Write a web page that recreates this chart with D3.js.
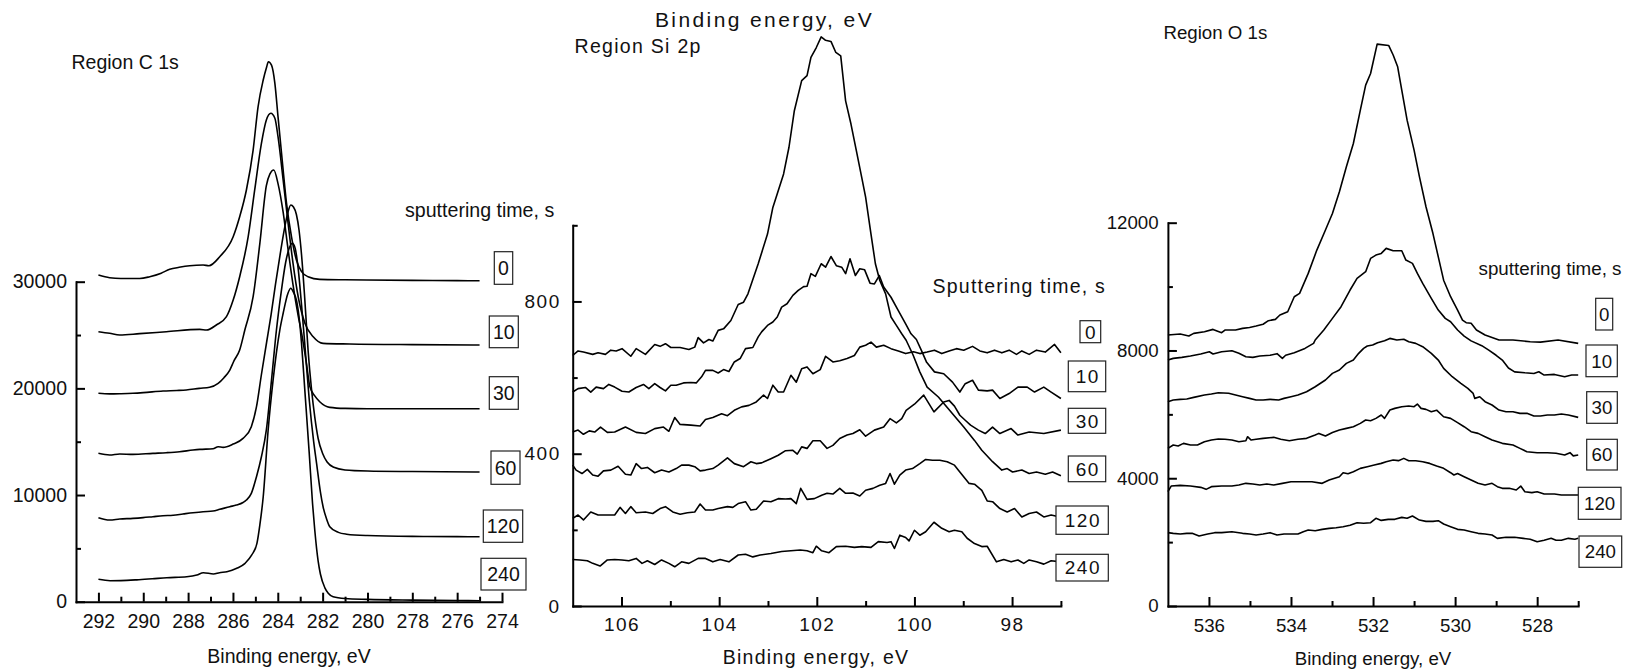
<!DOCTYPE html>
<html>
<head>
<meta charset="utf-8">
<script src="https://cdn.jsdelivr.net/npm/d3@7/dist/d3.min.js"></script>
<style>
  html, body { margin: 0; padding: 0; background: #fff; }
  svg { display: block; }
  text { font-family: "Liberation Sans", Arial, sans-serif; fill: #111; }
</style>
</head>
<body>
<script>
// XPS depth profile: C 1s, Si 2p and O 1s regions after successive sputtering steps.
// Each series is a list of [binding energy (eV), counts].

const sputterTimes = ["0", "10", "30", "60", "120", "240"];

// ---------- C 1s ----------
const c1s_0 = [[292.0,30630],[291.5,30375],[291.0,30300],[290.16,30300],[289.71,30470],[289.2,30800],[288.82,31160],[288.4,31350],[287.93,31500],[287.33,31560],[287.07,31500],[286.59,32340],[285.99,34220],[285.70,36090],[285.40,38600],[285.10,42340],[284.88,46400],[284.65,48910],[284.5,50100],[284.42,50625],[284.28,50310],[284.13,48600],[283.99,45470],[283.79,41100],[283.61,37350],[283.39,34220],[283.17,32030],[282.94,30940],[282.65,30470],[282.13,30220],[281.0,30180],[280.04,30160],[278.0,30120],[276.0,30100],[275.0,30090]];
const c1s_10 = [[292.0,25310],[291.5,25160],[291.05,25000],[290.16,25130],[288.97,25310],[287.48,25530],[287.18,25470],[286.74,25940],[286.29,26720],[285.99,28280],[285.70,30470],[285.32,34220],[285.03,38600],[284.73,42970],[284.51,45160],[284.31,45790],[284.13,45320],[283.99,43590],[283.76,39530],[283.54,35470],[283.32,31720],[283.09,28590],[282.79,26100],[282.42,24840],[281.98,24220],[280.79,24160],[278.0,24100],[275.0,24070]];
const c1s_30 = [[292.0,19540],[291.5,19480],[291.0,19500],[290.46,19540],[290.0,19600],[289.12,19750],[288.5,19800],[288.08,19850],[287.5,20000],[287.04,20100],[286.66,20470],[286.4,21000],[286.14,21720],[285.95,22600],[285.70,23600],[285.47,25470],[285.10,28590],[284.80,33600],[284.51,39000],[284.35,40100],[284.18,40470],[283.99,39200],[283.76,36500],[283.54,33000],[283.32,29700],[283.09,26800],[282.94,25200],[282.72,22300],[282.57,20160],[282.35,19300],[282.13,18750],[281.68,18220],[281.0,18120],[280.0,18090],[278.0,18090],[275.0,18090]];
const c1s_60 = [[292.0,13910],[291.5,13750],[291.05,13850],[290.46,13810],[289.57,13910],[288.97,13970],[288.38,14060],[287.78,14220],[287.48,14280],[286.89,14340],[286.66,14530],[286.44,14470],[285.99,14780],[285.55,15310],[285.18,16410],[284.95,18280],[284.73,21300],[284.5,24300],[284.3,26900],[284.1,29800],[283.9,32500],[283.7,35000],[283.55,36500],[283.42,37190],[283.3,37000],[283.17,36300],[283.05,34800],[282.94,32500],[282.8,28500],[282.65,23600],[282.5,20000],[282.35,17300],[282.2,15300],[282.0,13900],[281.8,13100],[281.5,12600],[281.0,12350],[280.0,12250],[278.0,12200],[275.0,12160]];
const c1s_120 = [[292.0,7880],[291.5,7660],[291.05,7750],[290.46,7810],[290.01,7880],[289.57,7970],[289.12,8060],[288.67,8100],[288.23,8220],[287.78,8340],[287.33,8440],[286.89,8500],[286.59,8660],[286.14,8910],[285.85,9060],[285.55,9300],[285.40,9530],[285.18,10160],[284.95,11720],[284.73,13590],[284.51,16100],[284.28,20780],[284.06,25470],[283.85,29000],[283.65,31800],[283.48,33200],[283.35,33600],[283.22,33100],[283.09,31200],[282.94,27800],[282.79,24000],[282.6,19000],[282.4,15000],[282.27,12970],[282.1,10300],[281.98,8900],[281.83,7800],[281.68,7030],[281.3,6500],[280.93,6330],[280.0,6200],[278.0,6120],[276.0,6100],[275.0,6090]];
const c1s_240 = [[292.0,2100],[291.48,1970],[291.0,1980],[290.29,2050],[289.6,2150],[288.95,2250],[288.06,2340],[287.61,2500],[287.32,2720],[286.87,2600],[286.6,2720],[286.27,2810],[285.83,3130],[285.46,3600],[285.16,4380],[284.93,5470],[284.8,7200],[284.65,9840],[284.43,16100],[284.21,20780],[283.91,25470],[283.76,27040],[283.55,28900],[283.42,29380],[283.3,29000],[283.17,28300],[283.02,26100],[282.94,24200],[282.8,20000],[282.6,14000],[282.45,9200],[282.35,6700],[282.2,3800],[282.1,2600],[281.9,1300],[281.75,800],[281.53,470],[281.0,300],[280.0,220],[278.0,150],[276.0,110],[275.0,90]];

// ---------- Si 2p ----------
const si2p_0 = [[107.00,457],[106.89,462],[106.78,451],[106.66,460],[106.55,457],[106.43,470],[106.29,456],[106.14,457],[105.92,470],[105.70,456],[105.51,453],[105.32,466],[105.14,470],[105.03,459],[104.91,495],[104.80,477],[104.58,475],[104.39,473],[104.28,490],[104.13,495],[103.95,505],[103.83,500],[103.69,514],[103.54,523],[103.39,527],[103.24,536],[103.09,554],[103.01,545],[102.90,580],[102.79,562],[102.68,562],[102.53,606],[102.42,588],[102.31,623],[102.20,628],[102.08,610],[101.93,621],[101.82,656],[101.67,641],[101.53,644],[101.38,650],[101.23,658],[101.12,680],[101.00,685],[100.89,693],[100.78,680],[100.63,685],[100.48,676],[100.33,670],[100.18,663],[100.02,668],[99.89,663],[99.74,667],[99.59,672],[99.44,663],[99.29,670],[99.14,676],[98.99,672],[98.81,682],[98.66,670],[98.51,665],[98.36,672],[98.21,665],[98.06,672],[97.91,661],[97.80,670],[97.65,661],[97.50,672],[97.32,667],[97.13,687],[97.00,665]];
const si2p_10 = [[107.00,562],[106.89,571],[106.74,574],[106.63,562],[106.52,575],[106.37,571],[106.26,582],[106.14,575],[105.99,564],[105.85,562],[105.70,574],[105.55,582],[105.44,571],[105.32,584],[105.21,574],[105.10,565],[104.99,580],[104.88,580],[104.73,586],[104.58,587],[104.47,586],[104.36,602],[104.28,619],[104.13,619],[104.02,612],[103.91,621],[103.80,616],[103.69,641],[103.57,650],[103.46,676],[103.31,679],[103.20,707],[103.13,720],[103.01,737],[102.90,746],[102.81,759],[102.72,785],[102.61,794],[102.49,816],[102.38,829],[102.27,839],[102.20,840],[102.12,873],[102.03,866],[101.91,899],[101.82,890],[101.71,918],[101.60,894],[101.49,890],[101.41,873],[101.32,912],[101.21,868],[101.12,886],[101.02,883],[100.91,848],[100.82,846],[100.72,868],[100.63,838],[100.48,811],[100.33,776],[100.18,741],[100.07,715],[99.96,700],[99.86,672],[99.75,640],[99.59,615],[99.40,610],[99.22,588],[99.07,562],[98.96,584],[98.81,593],[98.69,567],[98.51,565],[98.40,567],[98.25,545],[98.06,558],[97.88,575],[97.69,575],[97.54,562],[97.35,575],[97.20,562],[97.00,545]];
const si2p_30 = [[107.00,370],[106.93,357],[106.81,348],[106.70,359],[106.59,344],[106.48,341],[106.37,355],[106.22,357],[106.07,367],[105.92,346],[105.81,344],[105.70,374],[105.59,361],[105.47,364],[105.32,350],[105.18,357],[105.03,352],[104.88,361],[104.77,370],[104.62,370],[104.50,366],[104.39,355],[104.28,357],[104.13,361],[104.02,370],[103.83,389],[103.69,374],[103.50,366],[103.35,379],[103.24,374],[103.13,376],[102.94,387],[102.79,396],[102.64,408],[102.49,409],[102.40,399],[102.31,418],[102.20,414],[102.08,434],[101.93,434],[101.79,414],[101.67,422],[101.53,440],[101.38,449],[101.26,453],[101.12,463],[101.00,446],[100.82,462],[100.63,470],[100.50,492],[100.37,481],[100.26,492],[100.17,514],[100.00,530],[99.81,554],[99.60,510],[99.40,536],[99.29,540],[99.18,525],[99.07,501],[98.96,488],[98.85,475],[98.69,462],[98.55,453],[98.40,470],[98.25,453],[98.02,466],[97.88,449],[97.65,457],[97.35,453],[97.00,462]];
const si2p_60 = [[107.00,658],[106.89,670],[106.78,667],[106.59,661],[106.48,665],[106.33,661],[106.22,672],[106.11,670],[105.99,676],[105.81,656],[105.70,676],[105.51,661],[105.32,687],[105.21,682],[105.10,689],[104.99,679],[104.80,679],[104.62,674],[104.50,680],[104.43,705],[104.32,691],[104.21,700],[104.13,696],[104.02,724],[103.91,728],[103.76,750],[103.61,792],[103.50,798],[103.41,820],[103.20,899],[103.01,977],[102.90,1047],[102.79,1091],[102.68,1135],[102.57,1205],[102.46,1301],[102.31,1380],[102.20,1393],[102.12,1441],[102.01,1467],[101.91,1495],[101.82,1486],[101.71,1483],[101.61,1454],[101.51,1445],[101.41,1327],[101.30,1266],[101.19,1196],[101.08,1126],[101.00,1074],[100.89,977],[100.80,899],[100.71,855],[100.59,820],[100.48,759],[100.37,737],[100.26,715],[100.17,698],[100.03,660],[99.89,615],[99.74,575],[99.51,549],[99.22,505],[98.99,470],[98.77,435],[98.62,409],[98.40,379],[98.21,357],[98.10,361],[97.99,352],[97.80,357],[97.65,348],[97.50,352],[97.32,346],[97.17,352],[97.00,342]];
const si2p_120 = [[107.00,230],[106.89,239],[106.78,226],[106.63,247],[106.48,239],[106.29,239],[106.14,239],[106.03,259],[105.92,243],[105.81,261],[105.70,245],[105.51,247],[105.36,243],[105.21,256],[105.10,261],[104.95,247],[104.80,241],[104.65,245],[104.50,247],[104.39,268],[104.28,252],[104.13,252],[104.02,256],[103.83,261],[103.72,259],[103.61,269],[103.46,274],[103.35,252],[103.24,254],[103.09,276],[102.94,274],[102.79,282],[102.64,281],[102.53,282],[102.42,269],[102.33,309],[102.20,280],[102.05,282],[101.90,291],[101.79,296],[101.67,294],[101.53,309],[101.41,296],[101.26,297],[101.12,289],[101.00,304],[100.85,309],[100.71,317],[100.59,322],[100.50,348],[100.41,320],[100.30,344],[100.18,357],[100.04,361],[99.89,374],[99.77,385],[99.63,383],[99.48,383],[99.33,379],[99.18,370],[99.07,352],[98.88,322],[98.77,320],[98.62,304],[98.51,276],[98.40,274],[98.25,256],[98.10,247],[97.95,256],[97.80,234],[97.65,243],[97.50,247],[97.35,234],[97.20,239],[97.00,233]];
const si2p_240 = [[107.00,122],[106.85,121],[106.70,119],[106.59,112],[106.44,105],[106.29,121],[106.14,122],[105.99,121],[105.85,119],[105.70,125],[105.58,112],[105.47,119],[105.32,109],[105.18,121],[105.03,112],[104.91,103],[104.77,116],[104.62,112],[104.43,125],[104.28,125],[104.13,116],[103.98,122],[103.80,116],[103.61,134],[103.46,136],[103.31,129],[103.16,134],[102.94,138],[102.72,143],[102.53,145],[102.34,147],[102.20,145],[102.08,140],[102.01,157],[101.90,145],[101.75,140],[101.60,156],[101.41,157],[101.23,154],[101.08,156],[100.89,154],[100.74,169],[100.56,167],[100.48,169],[100.41,151],[100.30,186],[100.18,180],[100.11,171],[100.00,199],[99.89,186],[99.77,195],[99.60,220],[99.44,204],[99.29,195],[99.18,199],[99.03,195],[98.92,178],[98.77,164],[98.62,156],[98.51,157],[98.32,116],[98.17,122],[98.02,116],[97.88,121],[97.76,112],[97.65,121],[97.50,116],[97.35,110],[97.20,119],[97.00,116]];

// ---------- O 1s ----------
const o1s_0 = [[537.00,8483],[536.70,8515],[536.49,8452],[536.37,8535],[536.11,8587],[535.90,8660],[535.69,8556],[535.61,8640],[535.35,8640],[535.18,8692],[535.01,8720],[534.85,8765],[534.68,8820],[534.55,8932],[534.38,8974],[534.27,9109],[534.08,9213],[533.92,9683],[533.79,9787],[533.58,10413],[533.37,11143],[533.16,11770],[532.99,12290],[532.82,12970],[532.65,13750],[532.48,14480],[532.31,15525],[532.18,16307],[532.06,16670],[531.90,17590],[531.62,17550],[531.51,17250],[531.40,16880],[531.30,16150],[531.17,15210],[531.00,14270],[530.87,13440],[530.71,12500],[530.54,11660],[530.41,10930],[530.28,10200],[530.11,9683],[529.94,9265],[529.82,8950],[529.73,8870],[529.61,8850],[529.48,8640],[529.27,8483],[528.93,8326],[528.59,8326],[528.17,8274],[527.92,8260],[527.49,8326],[527.00,8222]];
const o1s_10 = [[537.00,7700],[536.87,7752],[536.66,7783],[536.45,7825],[536.20,7888],[535.99,7961],[535.90,7888],[535.69,7961],[535.44,7992],[535.27,7910],[535.10,7804],[534.93,7783],[534.76,7825],[534.51,7850],[534.34,7900],[534.21,7752],[534.13,7850],[533.92,7930],[533.66,8065],[533.45,8222],[533.41,8327],[533.20,8640],[532.99,9005],[532.78,9370],[532.56,9892],[532.39,10257],[532.18,10465],[532.06,10882],[531.93,10986],[531.80,11039],[531.68,11196],[531.51,11122],[531.30,11122],[531.20,10830],[531.04,10726],[530.92,10413],[530.79,10100],[530.58,9630],[530.41,9265],[530.24,9005],[530.11,8900],[529.94,8640],[529.78,8450],[529.61,8300],[529.35,8150],[529.18,8010],[529.0,7850],[528.85,7700],[528.7,7450],[528.55,7330],[528.3,7300],[528.08,7280],[527.96,7335],[527.83,7230],[527.58,7250],[527.33,7178],[527.16,7230],[527.00,7230]];
const o1s_30 = [[537.00,6396],[536.87,6448],[536.70,6470],[536.54,6480],[536.37,6531],[536.11,6604],[535.94,6635],[535.77,6678],[535.52,6660],[535.35,6604],[535.18,6550],[535.01,6500],[534.85,6448],[534.68,6448],[534.51,6470],[534.30,6448],[534.17,6500],[534.00,6550],[533.83,6604],[533.62,6709],[533.41,6865],[533.16,7074],[532.99,7283],[532.82,7387],[532.65,7596],[532.48,7700],[532.35,7909],[532.23,8065],[532.14,8140],[532.01,8170],[531.89,8243],[531.72,8305],[531.59,8378],[531.42,8326],[531.25,8350],[531.13,8274],[530.96,8222],[530.79,8117],[530.58,7909],[530.41,7700],[530.28,7439],[530.07,7178],[529.86,6970],[529.69,6813],[529.56,6656],[529.52,6500],[529.40,6550],[529.27,6396],[529.10,6292],[528.93,6135],[528.76,6083],[528.59,6083],[528.42,6031],[528.25,6031],[528.08,5947],[527.92,5947],[527.75,5980],[527.58,5980],[527.41,6010],[527.24,5980],[527.00,5905]];
const o1s_60 = [[537.00,4935],[536.87,5040],[536.75,5010],[536.62,5092],[536.45,5040],[536.28,5040],[536.11,5144],[535.94,5196],[535.77,5230],[535.61,5220],[535.44,5196],[535.27,5144],[535.10,5175],[535.06,5300],[534.97,5196],[534.85,5220],[534.68,5248],[534.42,5280],[534.25,5220],[534.04,5175],[533.83,5220],[533.62,5248],[533.41,5352],[533.32,5404],[533.16,5320],[532.99,5430],[532.82,5509],[532.65,5560],[532.48,5613],[532.31,5718],[532.18,5822],[532.06,5800],[531.93,5874],[531.80,5978],[531.72,5874],[531.59,6135],[531.47,6187],[531.30,6240],[531.13,6260],[531.00,6240],[530.92,6323],[530.83,6187],[530.71,6156],[530.58,6083],[530.45,6130],[530.28,5926],[530.11,5874],[529.94,5739],[529.78,5613],[529.61,5457],[529.44,5404],[529.27,5300],[529.10,5196],[528.85,5092],[528.59,5040],[528.42,4935],[528.25,4831],[528.00,4800],[527.75,4800],[527.54,4780],[527.33,4726],[527.20,4800],[527.12,4700],[527.00,4726]];
const o1s_120 = [[537.00,3579],[536.92,3756],[536.70,3777],[536.45,3756],[536.20,3715],[536.07,3652],[535.94,3736],[535.69,3756],[535.44,3756],[535.27,3788],[535.10,3840],[534.93,3820],[534.76,3788],[534.59,3820],[534.42,3788],[534.21,3840],[534.00,3892],[533.75,3892],[533.49,3892],[533.24,3840],[533.07,3944],[532.82,4048],[532.73,4173],[532.61,4140],[532.48,4205],[532.31,4309],[532.14,4361],[531.97,4413],[531.80,4465],[531.68,4518],[531.51,4570],[531.38,4550],[531.25,4622],[531.13,4549],[530.96,4549],[530.79,4518],[530.62,4465],[530.45,4382],[530.28,4309],[530.11,4173],[530.03,4101],[529.94,4150],[529.78,4048],[529.61,3944],[529.44,3840],[529.27,3788],[529.10,3840],[528.97,3736],[528.85,3684],[528.68,3684],[528.51,3631],[528.40,3756],[528.30,3579],[528.13,3550],[528.00,3579],[527.83,3506],[527.58,3506],[527.41,3475],[527.20,3475],[527.00,3475]];
const o1s_240 = [[537.00,2296],[536.87,2275],[536.70,2254],[536.54,2275],[536.41,2275],[536.24,2191],[536.03,2254],[535.86,2296],[535.69,2296],[535.44,2327],[535.18,2275],[535.01,2254],[534.85,2222],[534.68,2254],[534.51,2296],[534.34,2222],[534.17,2254],[533.96,2254],[533.83,2254],[533.70,2327],[533.58,2379],[533.41,2358],[533.24,2400],[533.07,2431],[532.90,2450],[532.73,2483],[532.56,2530],[532.39,2608],[532.23,2590],[532.06,2608],[531.93,2744],[531.80,2680],[531.63,2713],[531.47,2713],[531.30,2775],[531.17,2745],[531.04,2817],[530.87,2690],[530.71,2650],[530.54,2650],[530.41,2671],[530.28,2567],[530.11,2483],[529.94,2400],[529.78,2379],[529.61,2327],[529.44,2275],[529.27,2254],[529.10,2222],[528.97,2118],[528.76,2150],[528.55,2150],[528.34,2118],[528.17,2090],[528.00,2014],[527.83,2060],[527.66,2118],[527.54,2060],[527.41,2060],[527.24,2118],[527.08,2090],[527.00,2118]];

// ---------- axis ticks ----------
const c1sMajorX = [292, 290, 288, 286, 284, 282, 280, 278, 276, 274];
const c1sMinorX = [291, 289, 287, 285, 283, 281, 279, 277, 275];
const c1sMajorY = [0, 10000, 20000, 30000];
const c1sMinorY = [5000, 15000, 25000];
const si2pMajorX = [106, 104, 102, 100, 98];
const si2pMinorX = [105, 103, 101, 99, 97];
const si2pMajorY = [0, 400, 800];
const si2pMinorY = [200, 600, 1000];
const o1sMajorX = [536, 534, 532, 530, 528];
const o1sMinorX = [535, 533, 531, 529, 527];
const o1sMajorY = [0, 4000, 8000, 12000];
const o1sMinorY = [2000, 6000, 10000];

// ---------- layout ----------
const W = 1633, H = 672;

const panels = [
  {
    series: [c1s_0, c1s_10, c1s_30, c1s_60, c1s_120, c1s_240],
    xDomain: [293, 274], xRange: [76, 502],
    yDomain: [0, 30000], yRange: [601.7, 281.7],
    majorX: c1sMajorX, minorX: c1sMinorX, majorY: c1sMajorY, minorY: c1sMinorY,
    font: 19.5, spacing: 0, smooth: true,
    xPad: 12.5, yPad: 9,
    region: { text: "Region C 1s", x: 71.5, y: 69, size: 19.5, ls: 0 },
    xTitle: { text: "Binding energy, eV", x: 289, y: 662.5, size: 19.5, ls: 0 },
    legendTitle: { text: "sputtering time, s", x: 405, y: 217, size: 19.6, ls: 0 },
    boxes: [[494.3,251.7,18.4,32.6],[489.3,316,29,31.7],[489.3,376.7,29,32.6],[491,451,29,33.3],[483.3,510,39.4,32.3],[481,558.3,45,31.7]],
    boxFont: 19.5
  },
  {
    series: [si2p_0, si2p_10, si2p_30, si2p_60, si2p_120, si2p_240],
    xDomain: [107, 97], xRange: [572.7, 1060.9],
    yDomain: [0, 1000], yRange: [606, 225.3],
    majorX: si2pMajorX, minorX: si2pMinorX, majorY: si2pMajorY, minorY: si2pMinorY,
    font: 19, spacing: 1.5, smooth: false,
    xPad: 12, yPad: 12,
    region: { text: "Region Si 2p", x: 574.5, y: 52.5, size: 19.5, ls: 1.3 },
    xTitle: { text: "Binding energy, eV", x: 816, y: 664, size: 19.5, ls: 1.3 },
    topTitle: { text: "Binding energy, eV", x: 764.5, y: 26.7, size: 21, ls: 2.4 },
    legendTitle: { text: "Sputtering time, s", x: 932.6, y: 292.5, size: 19.5, ls: 1.2 },
    boxes: [[1080,320.7,20.7,22],[1068.3,361,37.4,30.7],[1068.3,408.3,37.4,25],[1068.3,456,37.4,25.7],[1056,506,52.3,28.3],[1056,554.3,52.3,26.7]],
    boxFont: 19
  },
  {
    series: [o1s_0, o1s_10, o1s_30, o1s_60, o1s_120, o1s_240],
    xDomain: [537, 527], xRange: [1167.9, 1578.2],
    yDomain: [0, 12000], yRange: [606, 222.7],
    majorX: o1sMajorX, minorX: o1sMinorX, majorY: o1sMajorY, minorY: o1sMinorY,
    font: 18.7, spacing: 0, smooth: false,
    xPad: 12.8, yPad: 9.3,
    region: { text: "Region O 1s", x: 1163.4, y: 39, size: 18.7, ls: 0 },
    xTitle: { text: "Binding energy, eV", x: 1373, y: 665, size: 18.7, ls: 0 },
    legendTitle: { text: "sputtering time, s", x: 1478.5, y: 275, size: 18.8, ls: 0 },
    boxes: [[1595.7,298.3,17,31.7],[1586,345,31.3,31.7],[1586.7,391.7,30.6,31.6],[1586.7,439.3,30.6,30.7],[1578.3,487.3,42.7,32],[1579,536,42.7,31.3]],
    boxFont: 18.7
  }
];

const svg = d3.select("body").append("svg")
  .attr("width", W).attr("height", H)
  .attr("viewBox", `0 0 ${W} ${H}`);

function addText(g, t, anchor) {
  return g.append("text")
    .attr("x", t.x).attr("y", t.y)
    .attr("font-size", t.size)
    .attr("letter-spacing", t.ls)
    .attr("text-anchor", anchor || "start")
    .text(t.text);
}

panels.forEach(p => {
  const g = svg.append("g");
  const x = d3.scaleLinear().domain(p.xDomain).range(p.xRange);
  const y = d3.scaleLinear().domain(p.yDomain).range(p.yRange);
  const y0 = p.yRange[0];
  const x0 = p.xRange[0];

  // spectra
  const line = d3.line()
    .x(d => x(d[0]))
    .y(d => y(d[1]))
    .curve(p.smooth ? d3.curveMonotoneX : d3.curveLinear);
  g.append("g")
    .selectAll("path")
    .data(p.series)
    .join("path")
    .attr("d", line)
    .attr("fill", "none")
    .attr("stroke", "#000")
    .attr("stroke-width", 1.6)
    .attr("stroke-linejoin", "round");

  // x axis: labelled major ticks and unlabelled minor ticks, both pointing inward
  const xMajor = d3.axisBottom(x).tickValues(p.majorX).tickFormat(d3.format("d"))
    .tickSize(-9).tickSizeOuter(0).tickPadding(p.xPad);
  const xMinor = d3.axisBottom(x).tickValues(p.minorX).tickFormat("")
    .tickSize(-5).tickSizeOuter(0);
  g.append("g").attr("transform", `translate(0,${y0})`).call(xMajor);
  g.append("g").attr("transform", `translate(0,${y0})`).call(xMinor)
    .call(s => s.select(".domain").remove());

  // y axis
  const yMajor = d3.axisLeft(y).tickValues(p.majorY).tickFormat(d3.format("d"))
    .tickSize(-9).tickSizeOuter(0).tickPadding(p.yPad);
  const yMinor = d3.axisLeft(y).tickValues(p.minorY).tickFormat("")
    .tickSize(-5).tickSizeOuter(0);
  g.append("g").attr("transform", `translate(${x0},0)`).call(yMajor);
  g.append("g").attr("transform", `translate(${x0},0)`).call(yMinor)
    .call(s => s.select(".domain").remove());

  g.selectAll(".domain").attr("stroke", "#000").attr("stroke-width", 2)
    .attr("stroke-linecap", "square");
  g.selectAll(".tick line").attr("stroke", "#000").attr("stroke-width", 2);
  g.selectAll(".tick text")
    .attr("font-family", '"Liberation Sans", Arial, sans-serif')
    .attr("font-size", p.font)
    .attr("letter-spacing", p.spacing)
    .attr("fill", "#111");

  // titles
  addText(g, p.region);
  addText(g, p.xTitle, "middle");
  if (p.topTitle) addText(g, p.topTitle, "middle");
  addText(g, p.legendTitle);

  // boxed sputtering-time labels
  const boxes = g.append("g").selectAll("g")
    .data(sputterTimes.map((t, i) => ({ t, b: p.boxes[i] })))
    .join("g");
  boxes.append("rect")
    .attr("x", d => d.b[0]).attr("y", d => d.b[1])
    .attr("width", d => d.b[2]).attr("height", d => d.b[3])
    .attr("fill", "#fff")
    .attr("stroke", "#222")
    .attr("stroke-width", 1.2);
  boxes.append("text")
    .attr("x", d => d.b[0] + d.b[2] / 2 + p.spacing / 2)
    .attr("y", d => d.b[1] + d.b[3] / 2)
    .attr("dy", "0.36em")
    .attr("text-anchor", "middle")
    .attr("font-size", p.boxFont)
    .attr("letter-spacing", p.spacing)
    .text(d => d.t);
});
</script>
</body>
</html>
